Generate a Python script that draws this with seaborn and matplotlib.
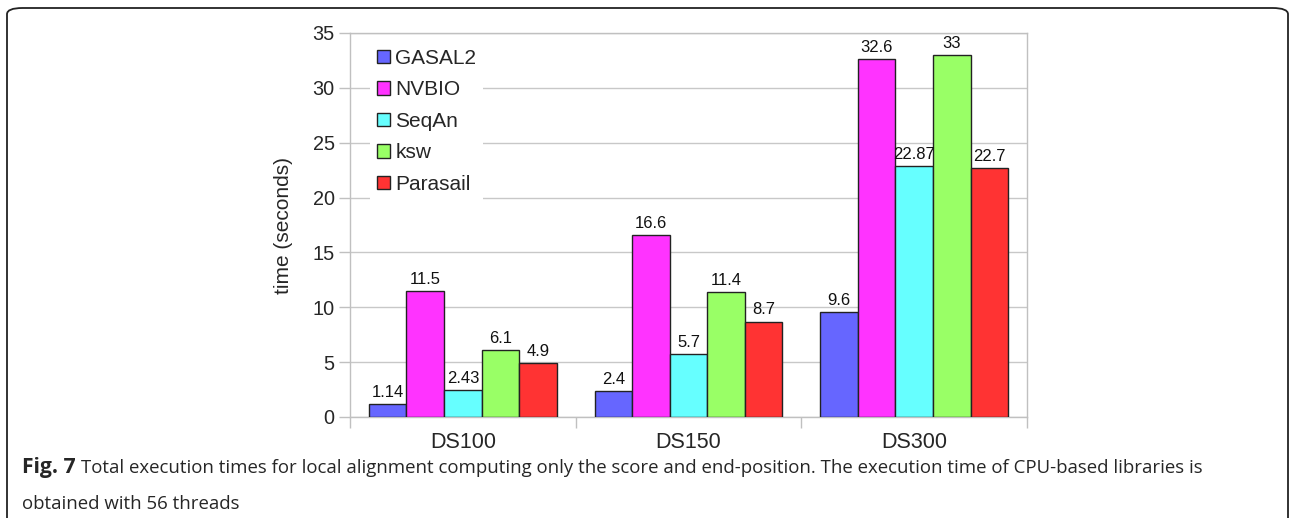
import matplotlib
matplotlib.use("Agg")
import matplotlib.pyplot as plt
from matplotlib.patches import FancyBboxPatch
from matplotlib.ticker import FixedLocator
import seaborn as sns
import pandas as pd

datasets = ["DS100", "DS150", "DS300"]
libraries = ["GASAL2", "NVBIO", "SeqAn", "ksw", "Parasail"]
gasal2 = [1.14, 2.4, 9.6]
nvbio = [11.5, 16.6, 32.6]
seqan = [2.43, 5.7, 22.87]
ksw = [6.1, 11.4, 33]
parasail = [4.9, 8.7, 22.7]
value_labels = {
    "GASAL2": ["1.14", "2.4", "9.6"],
    "NVBIO": ["11.5", "16.6", "32.6"],
    "SeqAn": ["2.43", "5.7", "22.87"],
    "ksw": ["6.1", "11.4", "33"],
    "Parasail": ["4.9", "8.7", "22.7"],
}
colors = ["#6666ff", "#ff33ff", "#66ffff", "#99ff66", "#ff3333"]
yticks = [0, 5, 10, 15, 20, 25, 30, 35]

series = {"GASAL2": gasal2, "NVBIO": nvbio, "SeqAn": seqan, "ksw": ksw, "Parasail": parasail}
rows = []
for lib in libraries:
    for ds, v in zip(datasets, series[lib]):
        rows.append({"dataset": ds, "library": lib, "time": v})
df = pd.DataFrame(rows)

sns.set_style("white")
plt.rcParams["font.family"] = ["Liberation Sans", "DejaVu Sans"]

fig = plt.figure(figsize=(12.92, 5.18), dpi=100)
ax = fig.add_axes([350/1292, 1-417/518, (1027-350)/1292, (417-33)/518])

sns.barplot(data=df, x="dataset", y="time", hue="library", hue_order=libraries,
            order=datasets, palette=colors, saturation=1, width=0.833,
            edgecolor="#222222", linewidth=1.0, ax=ax, zorder=3)

for cont, lib in zip(ax.containers, libraries):
    ax.bar_label(cont, labels=value_labels[lib], padding=3, fontsize=12, color="#111111")

ax.set_xlim(-0.5, 2.5)
ax.set_ylim(0, 35)
ax.set_yticks(yticks)
ax.set_yticklabels([str(t) for t in yticks], fontsize=14.3)
ax.yaxis.grid(True, color="#c8c8c8", linewidth=1, zorder=0)
ax.set_axisbelow(True)
ax.tick_params(axis="y", which="major", direction="out", length=8, width=1,
               color="#c0c0c0", left=True, pad=3)
ax.tick_params(axis="x", which="major", length=0, labelsize=15.5, pad=11)
ax.xaxis.set_minor_locator(FixedLocator([-0.5, 0.5, 1.5, 2.5]))
ax.tick_params(axis="x", which="minor", direction="out", length=8, width=1,
               color="#c0c0c0", bottom=True)
for s in ax.spines.values():
    s.set_color("#c0c0c0")
    s.set_linewidth(1)
ax.set_xlabel("")
ax.set_ylabel("time (seconds)", fontsize=15, labelpad=14)

leg = ax.legend(loc="upper left", bbox_to_anchor=(0.03, 0.975), frameon=True,
                fontsize=15, handlelength=0.65, handleheight=0.65,
                handletextpad=0.25, labelspacing=0.6, borderpad=0.3,
                borderaxespad=0)
leg.get_frame().set_edgecolor("none")
leg.get_frame().set_facecolor("white")
leg.get_frame().set_alpha(1)
leg.get_frame().set_boxstyle("square", pad=0)
for h in leg.legend_handles:
    h.set_edgecolor("#222222")
    h.set_linewidth(1)

border = FancyBboxPatch((7/1292, -20/518), 1281/1292, 530/518,
                        boxstyle="round,pad=0,rounding_size=0.012",
                        transform=fig.transFigure, fill=False,
                        edgecolor="#222222", linewidth=1.3)
fig.patches.append(border)

cap_font = ["Open Sans", "DejaVu Sans"]
fig.text(22/1292, 1-473/518, "Fig. 7", fontsize=15.2, fontweight="bold",
         family=cap_font, va="baseline")
fig.text(81/1292, 1-473/518,
         "Total execution times for local alignment computing only the score and end-position. The execution time of CPU-based libraries is",
         fontsize=13.4, family=cap_font, va="baseline")
fig.text(22/1292, 1-509/518, "obtained with 56 threads",
         fontsize=13.4, family=cap_font, va="baseline")

fig.savefig("out.png", dpi=100)
